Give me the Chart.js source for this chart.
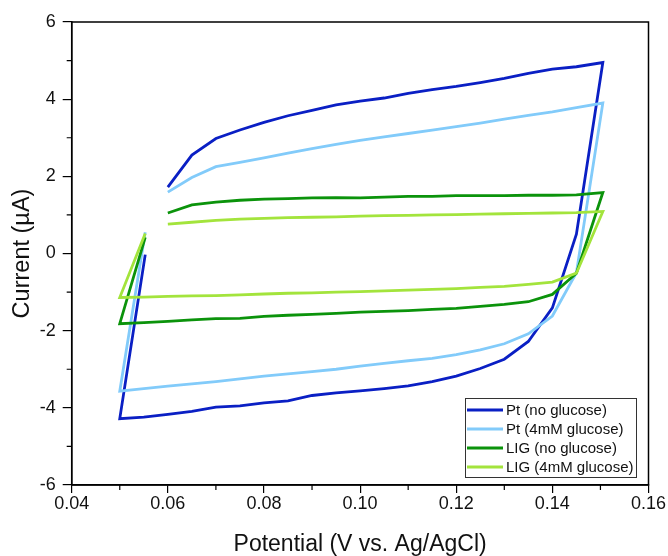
<!DOCTYPE html>
<html>
<head>
<meta charset="utf-8">
<script src="https://cdn.jsdelivr.net/npm/chart.js@4.4.0/dist/chart.umd.min.js"></script>
<style>
  html, body { margin: 0; padding: 0; background: #fff; }
  #wrap { width: 668px; height: 556px; }
</style>
</head>
<body>
<div id="wrap"><canvas id="cv" width="668" height="556"></canvas></div>
<script>
// potential sweep (V), shared by all four loops
const potential = [
  0.060, 0.065, 0.070, 0.075, 0.080, 0.085, 0.090, 0.095, 0.100, 0.105,
  0.110, 0.115, 0.120, 0.125, 0.130, 0.135, 0.140, 0.145, 0.1505,
  0.145, 0.140, 0.135, 0.130, 0.125, 0.120, 0.115, 0.110, 0.105, 0.100,
  0.095, 0.090, 0.085, 0.080, 0.075, 0.070, 0.065, 0.060, 0.055, 0.050,
  0.0553
];

const ptNoGlucose = [
  1.72, 2.55, 2.98, 3.20, 3.40, 3.57, 3.71, 3.85, 3.95, 4.03,
  4.15, 4.25, 4.33, 4.43, 4.54, 4.67, 4.78, 4.84, 4.95,
  0.50, -1.41, -2.28, -2.74, -2.98, -3.18, -3.32, -3.43, -3.50, -3.56,
  -3.61, -3.68, -3.82, -3.87, -3.95, -3.98, -4.09, -4.17, -4.24, -4.28,
  -0.03
];
const ptGlucose = [
  1.59, 1.97, 2.25, 2.36, 2.48, 2.60, 2.72, 2.83, 2.93, 3.02,
  3.11, 3.20, 3.29, 3.38, 3.48, 3.58, 3.67, 3.78, 3.90,
  -0.50, -1.62, -2.08, -2.34, -2.50, -2.62, -2.72, -2.78, -2.85, -2.92,
  -3.00, -3.06, -3.12, -3.18, -3.25, -3.32, -3.38, -3.44, -3.50, -3.57,
  0.55
];
const ligNoGlucose = [
  1.05, 1.26, 1.33, 1.38, 1.41, 1.42, 1.44, 1.45, 1.44, 1.46,
  1.48, 1.48, 1.50, 1.50, 1.50, 1.51, 1.51, 1.52, 1.58,
  -0.51, -1.06, -1.25, -1.32, -1.37, -1.42, -1.45, -1.48, -1.50, -1.52,
  -1.55, -1.58, -1.60, -1.63, -1.68, -1.69, -1.72, -1.76, -1.79, -1.82,
  0.42
];
const ligGlucose = [
  0.76, 0.81, 0.86, 0.89, 0.91, 0.93, 0.94, 0.95, 0.97, 0.98,
  0.99, 1.00, 1.01, 1.02, 1.03, 1.04, 1.05, 1.06, 1.09,
  -0.51, -0.74, -0.80, -0.85, -0.88, -0.91, -0.93, -0.95, -0.97, -0.99,
  -1.00, -1.02, -1.03, -1.05, -1.07, -1.09, -1.10, -1.11, -1.13, -1.14,
  0.52
];

const seriesLabels = ['Pt (no glucose)', 'Pt (4mM glucose)', 'LIG (no glucose)', 'LIG (4mM glucose)'];
const seriesValues = [ptNoGlucose, ptGlucose, ligNoGlucose, ligGlucose];
const seriesColors = ['#0a1fc4', '#82cbfa', '#0b930b', '#a3e43c'];

const xMinorTicks = [0.05, 0.07, 0.09, 0.11, 0.13, 0.15];
const yMinorTicks = [-5, -3, -1, 1, 3, 5];

const FONT = 'Liberation Sans, Arial, sans-serif';

const datasets = seriesValues.map((vals, i) => ({
  label: seriesLabels[i],
  data: vals.map((v, j) => ({ x: potential[j], y: v })),
  borderColor: seriesColors[i],
  backgroundColor: seriesColors[i],
  borderWidth: 2.8,
  pointRadius: 0,
  showLine: true,
  fill: false,
  tension: 0,
  order: seriesValues.length - i
}));

const framePlugin = {
  id: 'frame',
  afterDraw(chart) {
    const ctx = chart.ctx;
    const a = chart.chartArea;
    const xs = chart.scales.x, ys = chart.scales.y;
    ctx.save();
    ctx.strokeStyle = '#000';
    ctx.lineWidth = 1.5;
    ctx.strokeRect(a.left, a.top, a.right - a.left, a.bottom - a.top);
    ctx.lineWidth = 1.2;
    ctx.beginPath();
    xMinorTicks.forEach(v => {
      const px = xs.getPixelForValue(v);
      ctx.moveTo(px, a.bottom);
      ctx.lineTo(px, a.bottom + 5);
    });
    yMinorTicks.forEach(v => {
      const py = ys.getPixelForValue(v);
      ctx.moveTo(a.left, py);
      ctx.lineTo(a.left - 5, py);
    });
    ctx.stroke();

    // legend box
    const bx = 465, by = 398, bw = 171, bh = 79;
    ctx.fillStyle = '#fff';
    ctx.fillRect(bx, by, bw, bh);
    ctx.strokeStyle = '#333';
    ctx.lineWidth = 1;
    ctx.strokeRect(bx + 0.5, by + 0.5, bw, bh);
    ctx.font = '15px ' + FONT;
    ctx.textBaseline = 'middle';
    ctx.textAlign = 'left';
    chart.data.datasets.forEach((ds, i) => {
      const y = by + 12 + i * 19;
      ctx.strokeStyle = ds.borderColor;
      ctx.lineWidth = 3;
      ctx.beginPath();
      ctx.moveTo(bx + 2, y);
      ctx.lineTo(bx + 38, y);
      ctx.stroke();
      ctx.fillStyle = '#111';
      ctx.fillText(ds.label, bx + 41, y + 1);
    });
    ctx.restore();
  }
};

new Chart(document.getElementById('cv'), {
  type: 'scatter',
  data: { datasets: datasets },
  options: {
    responsive: false,
    animation: false,
    layout: { padding: { top: 22, right: 19.5, left: 0, bottom: 0 } },
    plugins: {
      legend: { display: false },
      tooltip: { enabled: false }
    },
    scales: {
      x: {
        type: 'linear',
        min: 0.04,
        max: 0.16,
        afterFit: s => { s.height = 71; },
        ticks: {
          stepSize: 0.02,
          callback: v => v.toFixed(2),
          font: { family: FONT, size: 18 },
          color: '#111',
          padding: 0,
          maxRotation: 0
        },
        grid: { drawOnChartArea: false, drawTicks: true, tickLength: 8, color: '#000', lineWidth: 1.2 },
        border: { display: true, color: '#000', width: 1.5 },
        title: {
          display: true,
          text: 'Potential (V vs. Ag/AgCl)',
          font: { family: FONT, size: 23, lineHeight: 1 },
          color: '#111',
          padding: 0
        }
      },
      y: {
        type: 'linear',
        min: -6,
        max: 6,
        afterFit: s => { s.width = 71.7; },
        ticks: {
          stepSize: 2,
          font: { family: FONT, size: 18 },
          color: '#111',
          padding: 7
        },
        grid: { drawOnChartArea: false, drawTicks: true, tickLength: 9, color: '#000', lineWidth: 1.2 },
        border: { display: true, color: '#000', width: 1.5 },
        title: {
          display: true,
          text: 'Current (\u00b5A)',
          font: { family: FONT, size: 23.5, lineHeight: 1 },
          color: '#111',
          padding: { top: 11, bottom: 0 }
        }
      }
    }
  },
  plugins: [framePlugin]
});
</script>
</body>
</html>
